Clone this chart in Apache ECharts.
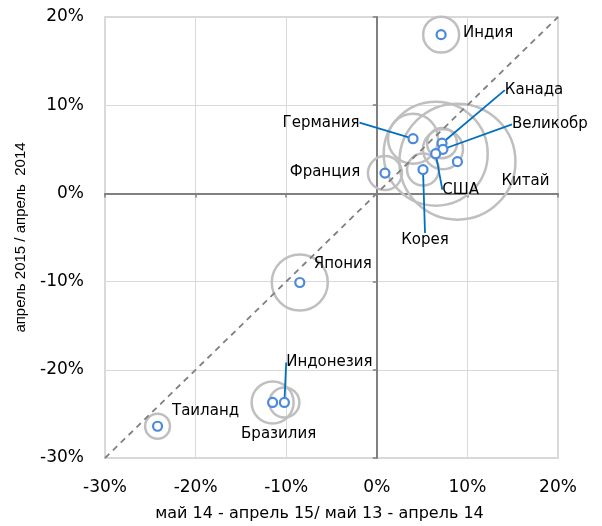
<!DOCTYPE html>
<html lang="ru">
<head>
    <meta charset="UTF-8">
    <title>Рост импорта по странам</title>
    <script src="https://cdn.jsdelivr.net/npm/echarts@6/dist/echarts.min.js"></script>
    <style>
        html, body { margin: 0; padding: 0; background: #fff; }
        #chart { width: 602px; height: 526px; }
    </style>
</head>
<body>
    <div id="chart"></div>
    <script>
        // данные
        var countries = ['Индия', 'Германия', 'Франция', 'Корея', 'Канада', 'Великобр',
                         'США', 'Китай', 'Япония', 'Индонезия', 'Таиланд', 'Бразилия'];
        // май 14 - апрель 15 / май 13 - апрель 14, %
        var xGrowth = [7.1, 4.0, 0.9, 5.1, 7.2, 7.3, 6.5, 8.9, -8.5, -10.2, -24.2, -11.5];
        // апрель 2015 / апрель 2014, %
        var yGrowth = [18.0, 6.2, 2.3, 2.7, 5.7, 5.0, 4.5, 3.6, -10.1, -23.7, -26.4, -23.7];
        // вес страны (размер круга)
        var weight = [9.6, 18.6, 8.6, 7.6, 6.7, 11.9, 80.4, 100, 23.3, 6.7, 4.6, 13.1];
        var axisMin = -30, axisMax = 20, axisStep = 10;

        // смещение подписей и выноски
        var labelShift = [[47, -2], [-92, -16], [-60, -1], [2, 71], [92, -53], [107, -25],
                          [25, 36], [68, 19], [43, -18], [45, -40], [48, -15], [6, 32]];
        var withLine = [0, 1, 0, 1, 1, 1, 1, 0, 0, 1, 0, 0];

        var chart = echarts.init(document.getElementById('chart'));

        var bubbleData = countries.map(function (c, i) {
            return [xGrowth[i], yGrowth[i], weight[i]];
        });
        var pointData = countries.map(function (c, i) {
            var item = { name: c, value: [xGrowth[i], yGrowth[i]] };
            if (withLine[i]) item.labelLine = { show: true };
            return item;
        });

        var font = 'DejaVu Sans';

        var option = {
            animation: false,
            backgroundColor: '#fff',
            grid: {
                left: 105, right: 44, top: 17, bottom: 68,
                containLabel: false,
                outerBoundsMode: 'none',
                show: true,
                borderColor: '#D9D9D9',
                borderWidth: 2
            },
            xAxis: [{
                type: 'value', min: axisMin, max: axisMax, interval: axisStep,
                position: 'bottom',
                axisLine: { show: false, onZero: false },
                axisTick: { show: false },
                splitLine: { lineStyle: { color: '#D9D9D9', width: 1 } },
                axisLabel: { formatter: '{value}%', margin: 21, fontSize: 17, color: '#000', fontFamily: font },
                name: 'май 14 - апрель 15/ май 13 - апрель 14',
                nameLocation: 'middle',
                nameGap: 48,
                nameTextStyle: { fontSize: 16, color: '#000', fontFamily: font, padding: [0, 24, 0, 0] }
            }, {
                // ось через ноль
                type: 'value', min: axisMin, max: axisMax, interval: axisStep,
                position: 'bottom',
                axisLine: { show: true, onZero: true, onZeroAxisIndex: 0, lineStyle: { color: '#808080', width: 2 } },
                axisTick: { show: true, length: 4, lineStyle: { color: '#808080', width: 1.5 } },
                axisLabel: { show: false },
                splitLine: { show: false }
            }],
            yAxis: [{
                type: 'value', min: axisMin, max: axisMax, interval: axisStep,
                position: 'left',
                axisLine: { show: false, onZero: false },
                axisTick: { show: false },
                splitLine: { lineStyle: { color: '#D9D9D9', width: 1 } },
                axisLabel: { formatter: '{value}%', margin: 21, fontSize: 17, color: '#000', fontFamily: font },
                name: 'апрель 2015 / апрель  2014',
                nameLocation: 'middle',
                nameRotate: 90,
                nameGap: 77,
                nameTextStyle: { fontSize: 15, color: '#000', fontFamily: 'Liberation Sans' }
            }, {
                type: 'value', min: axisMin, max: axisMax, interval: axisStep,
                position: 'left',
                axisLine: { show: true, onZero: true, onZeroAxisIndex: 0, lineStyle: { color: '#808080', width: 2 } },
                axisTick: { show: true, length: 4, lineStyle: { color: '#808080', width: 1.5 } },
                axisLabel: { show: false },
                splitLine: { show: false }
            }],
            series: [
                {
                    // серые круги
                    type: 'scatter',
                    silent: true,
                    data: bubbleData,
                    symbolSize: function (v) { return 11.6 * Math.sqrt(v[2]); },
                    itemStyle: { color: 'rgba(0,0,0,0)', borderColor: '#BFBFBF', borderWidth: 2.5, opacity: 1 },
                    z: 2
                },
                {
                    // диагональ y = x
                    type: 'line',
                    silent: true,
                    data: [[axisMin, axisMin], [axisMax, axisMax]],
                    symbol: 'none',
                    lineStyle: { color: '#7F7F7F', width: 1.8, type: [6, 5] },
                    z: 3
                },
                {
                    type: 'scatter',
                    data: pointData,
                    symbolSize: 9,
                    itemStyle: { color: '#fff', borderColor: '#4A89DC', borderWidth: 2.2, opacity: 1 },
                    label: {
                        show: true,
                        position: 'inside',
                        formatter: '{b}',
                        fontSize: 15,
                        color: '#000',
                        fontFamily: font
                    },
                    labelLine: {
                        show: false,
                        lineStyle: { color: '#0070C0', width: 1.8 }
                    },
                    labelLayout: function (params) {
                        var s = labelShift[params.dataIndex];
                        return { dx: s[0], dy: s[1] };
                    },
                    z: 4
                }
            ]
        };

        chart.setOption(option);
    </script>
</body>
</html>
